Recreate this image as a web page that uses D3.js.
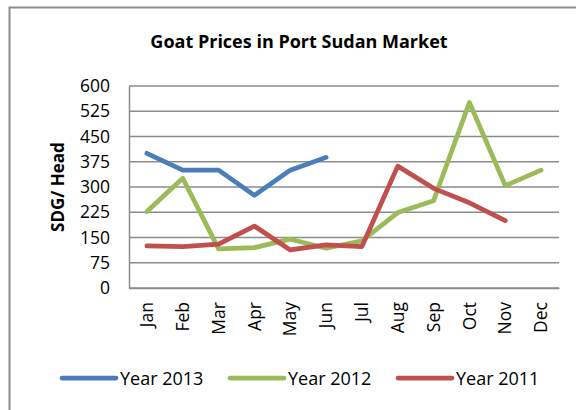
<!DOCTYPE html>
<html>
<head>
<meta charset="utf-8">
<script src="https://cdn.jsdelivr.net/npm/d3@7"></script>
<style>
  body { margin: 0; background: #fff; }
  svg { display: block; font-family: "Open Sans", sans-serif; }
</style>
</head>
<body>
<section></section>
<script>
const WIDTH = 576;
const HEIGHT = 410;

// Data
const months = ["Jan", "Feb", "Mar", "Apr", "May", "Jun", "Jul", "Aug", "Sep", "Oct", "Nov", "Dec"];
const year2013 = [400, 350, 350, 275, 350, 388, null, null, null, null, null, null];
const year2012 = [227, 326, 116, 120, 145, 118, 140, 224, 259, 551, 304, 350];
const year2011 = [125, 123, 130, 184, 113, 128, 123, 362, 296, 253, 200, null];
const yTicks = [0, 75, 150, 225, 300, 375, 450, 525, 600];

const seriesNames = ["Year 2013", "Year 2012", "Year 2011"];
const seriesColors = ["#4a7ebb", "#9bbb59", "#c0504d"];
const seriesValues = [year2013, year2012, year2011];

// Plot area
const LEFT = 129, RIGHT = 559, TOP = 86, BOTTOM = 288;

const svg = d3.select("section")
  .append("svg")
  .attr("width", WIDTH)
  .attr("height", HEIGHT);

// chart frame (only the top and left edges show in the picture)
svg.append("path")
  .attr("d", "M9.5," + HEIGHT + "V7.5H" + WIDTH)
  .attr("fill", "none")
  .attr("stroke", "#8c8c8c")
  .attr("stroke-width", 2);

svg.append("text")
  .attr("x", 299)
  .attr("y", 48)
  .attr("text-anchor", "middle")
  .attr("font-size", "18px")
  .attr("font-weight", "bold")
  .text("Goat Prices in Port Sudan Market");

const xScale = d3.scaleBand()
  .domain(months)
  .range([LEFT, RIGHT]);

const yScale = d3.scaleLinear()
  .domain([0, 600])
  .range([BOTTOM, TOP]);

// gridlines
svg.append("g")
  .selectAll("line")
  .data(yTicks)
  .enter()
  .append("line")
  .attr("x1", LEFT)
  .attr("x2", RIGHT)
  .attr("y1", d => yScale(d))
  .attr("y2", d => yScale(d))
  .attr("stroke", "#8c8c8c")
  .attr("stroke-width", 1.5);

// y axis
const yAxis = d3.axisLeft(yScale).tickValues(yTicks).tickSize(0).tickPadding(19);
const gy = svg.append("g")
  .attr("id", "y-axis")
  .attr("transform", "translate(" + LEFT + ",0)")
  .call(yAxis);
gy.select(".domain").attr("stroke", "#8c8c8c").attr("stroke-width", 1.5);
gy.selectAll("text").attr("font-size", "17.5px").attr("font-family", "Open Sans").attr("fill", "#000");

// x axis
const xAxis = d3.axisBottom(xScale).tickSize(0);
const gx = svg.append("g")
  .attr("id", "x-axis")
  .attr("transform", "translate(0," + BOTTOM + ")")
  .call(xAxis);
gx.select(".domain").attr("stroke", "#8c8c8c").attr("stroke-width", 1.5);
gx.selectAll("text")
  .attr("font-size", "17.5px")
  .attr("font-family", "Open Sans")
  .attr("fill", "#000")
  .attr("text-anchor", "end")
  .attr("transform", "rotate(-90)")
  .attr("x", -14)
  .attr("y", 0)
  .attr("dy", "0.35em");

// y axis title
svg.append("text")
  .attr("transform", "translate(64,187) rotate(-90)")
  .attr("text-anchor", "middle")
  .attr("font-size", "17px")
  .attr("font-weight", "bold")
  .text("SDG/ Head");

// lines
const line = d3.line()
  .defined(d => d != null)
  .x((d, i) => xScale(months[i]) + xScale.bandwidth() / 2)
  .y(d => yScale(d));

svg.selectAll(".series")
  .data(seriesValues)
  .enter()
  .append("path")
  .attr("class", "series")
  .attr("d", d => line(d))
  .attr("fill", "none")
  .attr("stroke", (d, i) => seriesColors[i])
  .attr("stroke-width", 4.75)
  .attr("stroke-linejoin", "round")
  .attr("stroke-linecap", "round");

// legend
const legendX = [62, 230, 398];
const legend = svg.selectAll(".legend")
  .data(seriesNames)
  .enter()
  .append("g")
  .attr("class", "legend")
  .attr("transform", (d, i) => "translate(" + legendX[i] + ",378)");

legend.append("line")
  .attr("x1", 0)
  .attr("x2", 54)
  .attr("stroke", (d, i) => seriesColors[i])
  .attr("stroke-width", 4.75)
  .attr("stroke-linecap", "round");

legend.append("text")
  .attr("x", 58)
  .attr("y", 7)
  .attr("font-size", "18px")
  .text(d => d);
</script>
</body>
</html>
